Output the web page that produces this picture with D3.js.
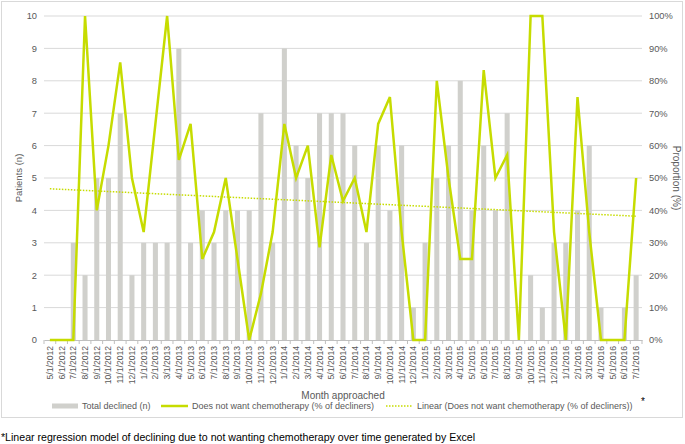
<!DOCTYPE html>
<html><head><meta charset="utf-8">
<script src="https://cdn.jsdelivr.net/npm/d3@7"></script>
<style>
html,body{margin:0;padding:0;background:#fff;}
svg{display:block;font-family:"Liberation Sans",Arial,sans-serif;}
</style></head>
<body><svg id="c" width="685" height="444"></svg>
<script>
const months = ["5/1/2012","6/1/2012","7/1/2012","8/1/2012","9/1/2012","10/1/2012","11/1/2012","12/1/2012",
"1/1/2013","2/1/2013","3/1/2013","4/1/2013","5/1/2013","6/1/2013","7/1/2013","8/1/2013","9/1/2013","10/1/2013","11/1/2013","12/1/2013",
"1/1/2014","2/1/2014","3/1/2014","4/1/2014","5/1/2014","6/1/2014","7/1/2014","8/1/2014","9/1/2014","10/1/2014","11/1/2014","12/1/2014",
"1/1/2015","2/1/2015","3/1/2015","4/1/2015","5/1/2015","6/1/2015","7/1/2015","8/1/2015","9/1/2015","10/1/2015","11/1/2015","12/1/2015",
"1/1/2016","2/1/2016","3/1/2016","4/1/2016","5/1/2016","6/1/2016","7/1/2016"];
const totalDeclined = [0,0,3,2,5,5,7,2,
 3,3,3,9,3,4,3,4,4,4,7,3,
 9,6,5,7,7,7,6,3,6,4,6,1,
 3,5,6,8,4,6,4,7,0,2,1,3,
 3,4,6,1,0,1,2];
const noChemoPct = [0,0,0,100,40,60,85.7,50,
 33.3,66.7,100,55.6,66.7,25,33.3,50,25,0,14.3,33.3,
 66.7,50,60,28.6,57.1,42.9,50,33.3,66.7,75,33.3,0,
 0,80,50,25,25,83.3,50,57.1,0,100,100,33.3,
 0,75,33.3,0,0,0,50];
const leftTicks = [0,1,2,3,4,5,6,7,8,9,10];
const rightTicks = [0,10,20,30,40,50,60,70,80,90,100];

const svg = d3.select("#c");
const L = 44, R = 642, T = 16, B = 340;
const lime = "#c6dc00", barCol = "#d0d0cc", grid = "#d9d9d9", txt = "#595959";

// frame
svg.append("rect").attr("x",1.5).attr("y",1.5).attr("width",681).attr("height",416)
  .attr("fill","none").attr("stroke","#d9d9d9").attr("stroke-width",1);

const x = d3.scaleBand().domain(months).range([L,R]).paddingInner(0.57).paddingOuter(0.285);
const xc = d3.scaleBand().domain(months).range([L,R]);
const yL = d3.scaleLinear().domain([0,10]).range([B,T]);
const yR = d3.scaleLinear().domain([0,100]).range([B,T]);

// gridlines
svg.append("g").selectAll("line").data(leftTicks.slice(1)).join("line")
  .attr("x1",L).attr("x2",R).attr("y1",d=>yL(d)).attr("y2",d=>yL(d))
  .attr("stroke",grid).attr("stroke-width",1);

// bars
svg.append("g").selectAll("rect").data(totalDeclined).join("rect")
  .attr("x",(d,i)=>x(months[i])).attr("width",x.bandwidth())
  .attr("y",d=>yL(d)).attr("height",d=>B-yL(d)).attr("fill",barCol);

// bottom axis line and ticks
const gx = svg.append("g").attr("transform",`translate(0,${B})`)
  .call(d3.axisBottom(xc).tickSize(0).tickFormat(""));
gx.select(".domain").attr("stroke","#bfbfbf");
svg.append("g").selectAll("line").data(d3.range(months.length+1)).join("line")
  .attr("x1",i=>L+i*xc.step()).attr("x2",i=>L+i*xc.step()).attr("y1",B).attr("y2",B+4)
  .attr("stroke","#bfbfbf");
// x labels
svg.append("g").selectAll("text").data(months).join("text")
  .attr("transform",d=>`translate(${xc(d)+xc.bandwidth()/2+3},${B+6}) rotate(-90)`)
  .attr("text-anchor","end").attr("font-size",8.6).attr("fill",txt).text(d=>d);

// left axis
const gl = svg.append("g").attr("transform",`translate(${L},0)`)
  .call(d3.axisLeft(yL).tickValues(leftTicks).tickSize(0).tickPadding(7));
gl.select(".domain").remove();
gl.selectAll("text").attr("font-size",9.3).attr("fill",txt).attr("font-family","Liberation Sans, Arial, sans-serif");
// right axis
const gr = svg.append("g").attr("transform",`translate(${R},0)`)
  .call(d3.axisRight(yR).tickValues(rightTicks).tickSize(0).tickPadding(7).tickFormat(d=>d+"%"));
gr.select(".domain").remove();
gr.selectAll("text").attr("font-size",9.3).attr("fill",txt).attr("font-family","Liberation Sans, Arial, sans-serif");

// axis titles
svg.append("text").attr("transform",`translate(22,${(T+B)/2}) rotate(-90)`).attr("text-anchor","middle")
  .attr("font-size",9.5).attr("fill",txt).text("Patients (n)");
svg.append("text").attr("transform",`translate(673,${(T+B)/2}) rotate(90)`).attr("text-anchor","middle")
  .attr("font-size",10).attr("fill",txt).text("Proportion (%)");
svg.append("text").attr("x",343).attr("y",399).attr("text-anchor","middle")
  .attr("font-size",10).attr("fill",txt).text("Month approached");

// line
const cx = i => xc(months[i]) + xc.bandwidth()/2;
svg.append("path").datum(noChemoPct)
  .attr("d", d3.line().x((d,i)=>cx(i)).y(d=>yR(d)))
  .attr("fill","none").attr("stroke",lime).attr("stroke-width",2.5).attr("stroke-linejoin","miter");

// linear trend (least squares over the plotted series)
const n = noChemoPct.length, idx = d3.range(n);
const mx = d3.mean(idx), my = d3.mean(noChemoPct);
const slope = d3.sum(idx, i=>(i-mx)*(noChemoPct[i]-my)) / d3.sum(idx, i=>(i-mx)*(i-mx));
const icpt = my - slope*mx;
svg.append("line").attr("x1",cx(0)).attr("x2",cx(n-1))
  .attr("y1",yR(icpt)).attr("y2",yR(icpt+slope*(n-1)))
  .attr("stroke",lime).attr("stroke-width",1.5).attr("stroke-dasharray","1.5,1.5");

// legend
const lg = svg.append("g");
const ly = 406;
lg.append("rect").attr("x",52).attr("y",ly-2.5).attr("width",26).attr("height",5).attr("fill",barCol);
lg.append("text").attr("x",82).attr("y",ly+3.2).attr("font-size",9).attr("fill",txt).text("Total declined (n)");
lg.append("line").attr("x1",161).attr("x2",188).attr("y1",ly).attr("y2",ly).attr("stroke",lime).attr("stroke-width",2.5);
lg.append("text").attr("x",192).attr("y",ly+3.2).attr("font-size",9).attr("fill",txt).text("Does not want chemotherapy (% of decliners)");
lg.append("line").attr("x1",386).attr("x2",412).attr("y1",ly).attr("y2",ly).attr("stroke",lime).attr("stroke-width",1.5).attr("stroke-dasharray","1.5,1.5");
lg.append("text").attr("x",417).attr("y",ly+3.2).attr("font-size",9).attr("fill",txt).text("Linear (Does not want chemotherapy (% of decliners))");
lg.append("text").attr("x",641).attr("y",405).attr("font-size",10).attr("fill","#000").text("*");

// footnote
svg.append("text").attr("x",1).attr("y",441).attr("font-size",10.6).attr("fill","#000")
  .text("*Linear regression model of declining due to not wanting chemotherapy over time generated by Excel");
</script></body></html>
